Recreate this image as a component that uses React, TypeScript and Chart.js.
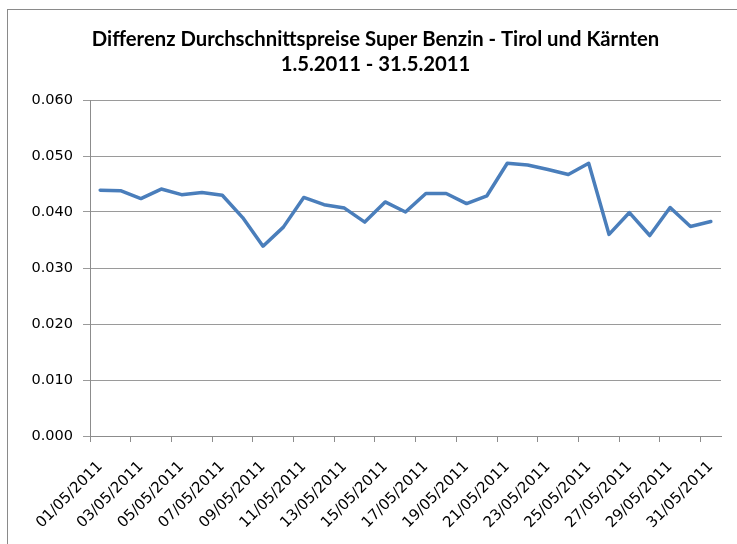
import React, { useEffect, useRef } from "react";
import { Chart, registerables } from "chart.js";

Chart.register(...registerables);

const titleLines: string[] = [
  "Differenz Durchschnittspreise Super Benzin - Tirol und Kärnten",
  "1.5.2011 - 31.5.2011",
];

const dates: string[] = [
  "01/05/2011", "02/05/2011", "03/05/2011", "04/05/2011", "05/05/2011",
  "06/05/2011", "07/05/2011", "08/05/2011", "09/05/2011", "10/05/2011",
  "11/05/2011", "12/05/2011", "13/05/2011", "14/05/2011", "15/05/2011",
  "16/05/2011", "17/05/2011", "18/05/2011", "19/05/2011", "20/05/2011",
  "21/05/2011", "22/05/2011", "23/05/2011", "24/05/2011", "25/05/2011",
  "26/05/2011", "27/05/2011", "28/05/2011", "29/05/2011", "30/05/2011",
  "31/05/2011",
];

const difference: number[] = [
  0.0439, 0.0438, 0.0424, 0.0441, 0.0431, 0.0435, 0.0430, 0.0390, 0.0339, 0.0373,
  0.0426, 0.0413, 0.0407, 0.0382, 0.0418, 0.0400, 0.0433, 0.0433, 0.0415, 0.0429,
  0.0487, 0.0484, 0.0476, 0.0467, 0.0487, 0.0360, 0.0399, 0.0358, 0.0408, 0.0374,
  0.0383,
];

const yMin = 0;
const yMax = 0.06;
const yStep = 0.01;

export default function App() {
  const canvasRef = useRef<HTMLCanvasElement | null>(null);

  useEffect(() => {
    if (!canvasRef.current) return;
    const chart = new Chart(canvasRef.current, {
      type: "line",
      data: {
        labels: dates,
        datasets: [
          {
            label: "Differenz",
            data: difference,
            borderColor: "#4a7ebb",
            backgroundColor: "#4a7ebb",
            borderWidth: 3.5,
            pointRadius: 0,
            tension: 0,
            borderJoinStyle: "round",
            borderCapStyle: "round",
          },
        ],
      },
      options: {
        animation: false,
        responsive: true,
        maintainAspectRatio: false,
        layout: { padding: { left: 30, right: 16, top: 0, bottom: 0 } },
        plugins: {
          legend: { display: false },
          tooltip: { enabled: false },
          title: {
            display: true,
            text: titleLines,
            color: "#000000",
            font: {
              family: "Lato, sans-serif",
              size: 20.3,
              weight: "bold",
              lineHeight: "24.8px",
            },
            padding: { top: 27, bottom: 23.4 },
          },
        },
        scales: {
          x: {
            offset: true,
            afterFit: (scale: any) => {
              scale.height = 108;
              scale.paddingLeft = 0;
              scale.paddingRight = 0;
            },
            border: { display: true, color: "#8c8c8c", width: 1 },
            grid: {
              display: true,
              offset: true,
              drawOnChartArea: false,
              drawTicks: true,
              tickLength: 6,
              color: (ctx: any) =>
                ctx.index !== undefined && ctx.index % 2 === 0 ? "#8c8c8c" : "rgba(0,0,0,0)",
            },
            ticks: {
              autoSkip: false,
              maxRotation: 45,
              minRotation: 45,
              padding: 16,
              color: "#000000",
              font: { family: "'DejaVu Sans', sans-serif", size: 15 },
              callback: (_v: any, i: number) => (i % 2 === 0 ? dates[i] : ""),
            },
          },
          y: {
            min: yMin,
            max: yMax,
            afterFit: (scale: any) => {
              scale.width = 60;
            },
            border: { display: true, color: "#8c8c8c", width: 1 },
            grid: {
              color: "#9a9a9a",
              lineWidth: 1,
              drawTicks: true,
              tickLength: 7,
            },
            ticks: {
              stepSize: yStep,
              padding: 10,
              color: "#000000",
              font: { family: "'DejaVu Sans', sans-serif", size: 14.5 },
              callback: (v: any) => Number(v).toFixed(3),
            },
          },
        },
      },
    });
    return () => chart.destroy();
  }, []);

  return (
    <div
      style={{
        position: "fixed",
        left: 0,
        top: 0,
        width: 737,
        height: 544,
        background: "#ffffff",
        overflow: "hidden",
      }}
    >
      <div
        style={{
          position: "absolute",
          left: 7,
          top: 9,
          width: 760,
          height: 560,
          border: "1px solid #8a8a8a",
          boxSizing: "border-box",
        }}
      />
      <canvas ref={canvasRef} style={{ position: "absolute", left: 0, top: 0 }} />
    </div>
  );
}
